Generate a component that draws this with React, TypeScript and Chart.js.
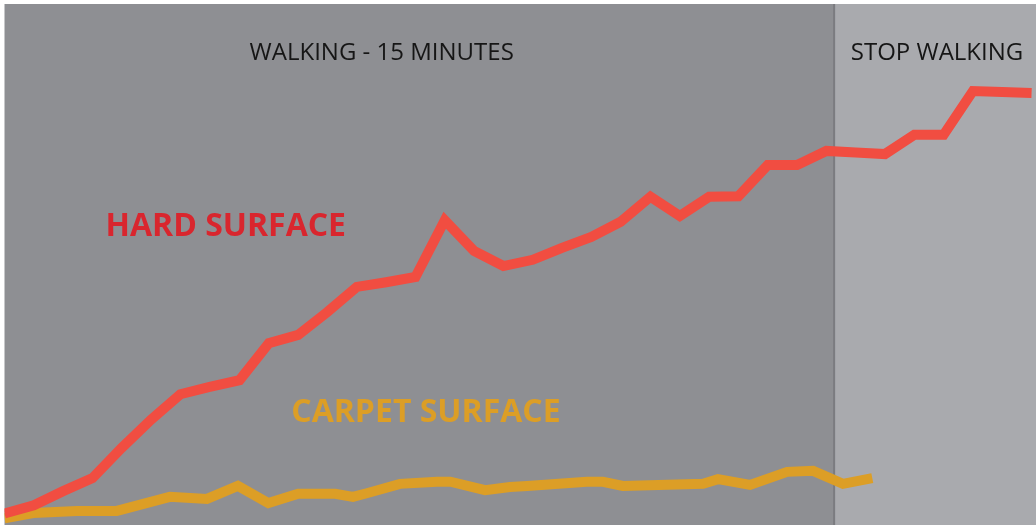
import React, { useEffect, useRef } from "react";
import { Chart, registerables } from "chart.js";

Chart.register(...registerables);

// Time (minutes) and level for the hard-surface series
const hardTime = [
  0, 0.53, 1.06, 1.59, 2.12, 2.65, 3.18, 3.71, 4.25, 4.78, 5.31, 5.84, 6.37, 6.9, 7.43, 7.96, 8.49, 9.02,
  9.55, 10.08, 10.61, 11.14, 11.68, 12.21, 12.74, 13.27, 13.8, 14.33, 14.86, 15.39, 15.92, 16.45, 16.98,
  17.51, 18.04, 18.57,
];
const hardLevel = [
  2.2, 3.8, 6.5, 9.0, 14.8, 20.2, 25.1, 26.5, 27.8, 34.9, 36.5, 40.9, 45.7, 46.6, 47.6, 58.5, 52.6, 49.7,
  50.9, 53.2, 55.3, 58.2, 63.0, 59.3, 63.0, 63.1, 69.1, 69.1, 71.8, 71.5, 71.2, 74.9, 74.9, 83.3, 83.1, 82.9,
];

// Time (minutes) and level for the carpet-surface series
const carpetTime = [
  0, 0.52, 1.31, 2.03, 2.99, 3.66, 4.22, 4.77, 5.31, 5.98, 6.3, 6.55, 7.15, 7.82, 8.06, 8.69, 9.14, 9.45,
  10.53, 10.82, 11.18, 12.63, 12.9, 13.48, 14.15, 14.62, 15.16, 15.69,
];
const carpetLevel = [
  1.3, 2.3, 2.7, 2.7, 5.4, 5.0, 7.5, 4.2, 6.0, 6.0, 5.4, 6.1, 7.9, 8.3, 8.3, 6.7, 7.3, 7.5, 8.3, 8.3, 7.5,
  7.9, 8.8, 7.7, 10.2, 10.4, 7.9, 9.0,
];

const walkEnd = 15; // minutes
const timeMax = 18.65;

const phaseLabels = [
  { text: "WALKING - 15 MINUTES", x: 6.82, y: 90.6 },
  { text: "STOP WALKING", x: 16.86, y: 90.6 },
];
const seriesLabels = [
  { text: "HARD SURFACE", x: 4.0, y: 57.2, color: "#d9262e" },
  { text: "CARPET SURFACE", x: 7.62, y: 21.5, color: "#dc9e26" },
];

const FONT = "'Open Sans', 'Noto Sans', sans-serif";

const bgPlugin = {
  id: "bgPlugin",
  beforeDraw(chart: any) {
    const { ctx, chartArea, scales } = chart;
    const xd = scales.x.getPixelForValue(walkEnd);
    ctx.save();
    ctx.fillStyle = "#ffffff";
    ctx.fillRect(0, 0, chart.width, chart.height);
    ctx.fillStyle = "#8e8f93";
    ctx.fillRect(chartArea.left, chartArea.top, xd - chartArea.left, chartArea.bottom - chartArea.top);
    ctx.fillStyle = "#a9aaae";
    ctx.fillRect(xd, chartArea.top, chartArea.right - xd, chartArea.bottom - chartArea.top);
    ctx.fillStyle = "#7b7c80";
    ctx.fillRect(xd - 1, chartArea.top, 2, chartArea.bottom - chartArea.top);
    ctx.restore();
  },
  afterDraw(chart: any) {
    const { ctx, scales } = chart;
    ctx.save();
    ctx.textAlign = "center";
    ctx.textBaseline = "middle";
    ctx.fillStyle = "#161616";
    ctx.font = `400 24px ${FONT}`;
    for (const l of phaseLabels) {
      ctx.fillText(l.text, scales.x.getPixelForValue(l.x), scales.y.getPixelForValue(l.y));
    }
    ctx.font = `700 32px ${FONT}`;
    for (const l of seriesLabels) {
      ctx.fillStyle = l.color;
      ctx.fillText(l.text, scales.x.getPixelForValue(l.x), scales.y.getPixelForValue(l.y));
    }
    ctx.restore();
  },
};

export default function App() {
  const ref = useRef<HTMLCanvasElement>(null);
  useEffect(() => {
    if (!ref.current) return;
    const chart = new Chart(ref.current, {
      type: "line",
      data: {
        datasets: [
          {
            label: "Hard surface",
            data: hardTime.map((t, i) => ({ x: t, y: hardLevel[i] })),
            borderColor: "#f14d41",
            borderWidth: 10,
            borderJoinStyle: "miter",
            borderCapStyle: "butt",
            pointRadius: 0,
            tension: 0,
            fill: false,
          },
          {
            label: "Carpet surface",
            data: carpetTime.map((t, i) => ({ x: t, y: carpetLevel[i] })),
            borderColor: "#dc9e26",
            borderWidth: 10,
            borderJoinStyle: "miter",
            borderCapStyle: "butt",
            pointRadius: 0,
            tension: 0,
            fill: false,
          },
        ],
      },
      options: {
        animation: false,
        responsive: true,
        maintainAspectRatio: false,
        layout: { padding: { left: 4.5, top: 4, right: 0, bottom: 0 } },
        plugins: { legend: { display: false }, tooltip: { enabled: false } },
        scales: {
          x: { type: "linear", min: 0, max: timeMax, display: false },
          y: { type: "linear", min: 0, max: 100, display: false },
        },
      },
      plugins: [bgPlugin],
    });
    return () => chart.destroy();
  }, []);
  return (
    <div style={{ position: "fixed", left: 0, top: 0, width: 1036, height: 525 }}>
      <canvas ref={ref} />
    </div>
  );
}
